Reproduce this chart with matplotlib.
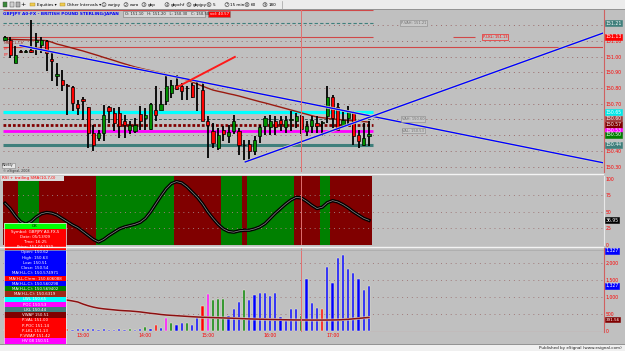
import matplotlib
matplotlib.use("Agg")
import matplotlib.pyplot as plt
import matplotlib.patheffects as pe
from matplotlib.patches import Rectangle, Circle

# ---------------- data (5-minute GBPJPY candles) ----------------
opens = [151.106, 151.106, 150.959, 151.036, 151.030, 151.042, 151.094, 151.074, 151.099, 150.985,
         150.876, 150.851, 150.822, 150.806, 150.698, 150.730, 150.679, 150.513, 150.482, 150.513,
         150.679, 150.641, 150.641, 150.590, 150.532, 150.526, 150.634, 150.609, 150.539, 150.660,
         150.660, 150.717, 150.768, 150.819, 150.813, 150.803, 150.819, 150.797, 150.787, 150.590,
         150.526, 150.418, 150.532, 150.494, 150.526, 150.526, 150.440, 150.443, 150.399, 150.494,
         150.558, 150.552, 150.590, 150.596, 150.552, 150.596, 150.590, 150.620, 150.526, 150.558,
         150.577, 150.577, 150.622, 150.743, 150.679, 150.564, 150.609, 150.641, 150.501, 150.437,
         150.494]
highs = [151.131, 151.125, 151.068, 151.040, 151.040, 151.233, 151.150, 151.125, 151.106, 151.036,
         150.959, 150.915, 150.825, 150.813, 150.724, 150.743, 150.679, 150.564, 150.532, 150.692,
         150.685, 150.673, 150.679, 150.628, 150.590, 150.609, 150.685, 150.673, 150.705, 150.813,
         150.781, 150.883, 150.851, 150.883, 150.832, 150.813, 150.832, 150.851, 150.832, 150.622,
         150.577, 150.545, 150.558, 150.564, 150.628, 150.545, 150.469, 150.469, 150.494, 150.564,
         150.622, 150.628, 150.622, 150.622, 150.622, 150.654, 150.641, 150.630, 150.590, 150.622,
         150.622, 150.590, 150.813, 150.756, 150.705, 150.654, 150.685, 150.654, 150.532, 150.577,
         150.590]
lows = [151.099, 150.991, 150.959, 151.026, 151.026, 151.023, 151.010, 151.023, 150.908, 150.845,
        150.813, 150.781, 150.628, 150.654, 150.628, 150.596, 150.418, 150.399, 150.462, 150.462,
        150.577, 150.526, 150.482, 150.482, 150.507, 150.513, 150.532, 150.532, 150.532, 150.590,
        150.660, 150.692, 150.736, 150.787, 150.724, 150.724, 150.736, 150.654, 150.590, 150.354,
        150.418, 150.405, 150.462, 150.450, 150.507, 150.373, 150.341, 150.335, 150.373, 150.450,
        150.501, 150.501, 150.501, 150.526, 150.513, 150.526, 150.545, 150.510, 150.494, 150.513,
        150.513, 150.494, 150.577, 150.545, 150.532, 150.545, 150.564, 150.437, 150.418, 150.431,
        150.431]
closes = [151.125, 151.010, 151.010, 151.030, 151.036, 151.029, 151.104, 151.106, 151.023, 150.972,
          150.889, 150.819, 150.816, 150.705, 150.673, 150.717, 150.513, 150.437, 150.513, 150.628,
          150.654, 150.577, 150.558, 150.564, 150.564, 150.564, 150.590, 150.628, 150.698, 150.628,
          150.698, 150.813, 150.819, 150.794, 150.781, 150.797, 150.743, 150.803, 150.590, 150.564,
          150.450, 150.501, 150.507, 150.520, 150.590, 150.437, 150.434, 150.399, 150.469, 150.552,
          150.609, 150.590, 150.552, 150.571, 150.596, 150.603, 150.622, 150.540, 150.558, 150.596,
          150.558, 150.583, 150.743, 150.609, 150.532, 150.596, 150.647, 150.494, 150.462, 150.482,
          150.507]
ma_price = [151.112, 151.110, 151.109, 151.108, 151.107, 151.106, 151.105, 151.104, 151.102, 151.092,
            151.080, 151.072, 151.063, 151.054, 151.045, 151.036, 151.026, 151.016, 151.006, 150.995,
            150.985, 150.975, 150.964, 150.954, 150.944, 150.934, 150.926, 150.918, 150.911, 150.903,
            150.896, 150.887, 150.878, 150.869, 150.860, 150.851, 150.838, 150.825, 150.812, 150.799,
            150.787, 150.779, 150.772, 150.764, 150.757, 150.749, 150.740, 150.731, 150.722, 150.713,
            150.705, 150.696, 150.687, 150.678, 150.669, 150.660, 150.651, 150.642, 150.633, 150.624,
            150.615, 150.611, 150.607, 150.603, 150.600, 150.596, 150.593, 150.591, 150.588, 150.586,
            150.583]
volumes = [60, 45, 40, 35, 30, 55, 40, 35, 50, 40,
           35, 30, 60, 45, 50, 55, 70, 60, 45, 71,
           32, 32, 52, 32, 52, 32, 71, 110, 71, 178,
           100, 392, 227, 178, 227, 227, 178, 373, 733, 1074,
           908, 947, 928, 441, 655, 840, 1200, 908, 1054, 1122,
           1122, 1035, 1122, 402, 305, 645, 636, 441, 1521, 811,
           684, 645, 1872, 1395, 2144, 2212, 1804, 1706, 1521, 1191,
           1327]
vol_codes = ["b"] * 12 + ["r"] + ["b"] * 11 + ["g", "b", "b", "g", "b", "r", "b", "m", "g", "b", "b", "g",
             "b", "b", "r", "m", "g", "g", "g", "b", "b", "b", "g", "b", "b", "b", "b", "b", "b", "b",
             "b", "b", "b", "g", "b", "b", "b", "r", "b", "b", "b", "b", "b", "b", "b", "b"]
vol_ma = [1250, 1210, 1170, 1130, 1095, 1060, 1030, 1000, 975, 955,
          935, 920, 905, 880, 850, 790, 740, 700, 670, 650,
          635, 620, 605, 595, 588, 575, 560, 540, 520, 505,
          485, 470, 460, 450, 440, 430, 420, 412, 405, 400,
          395, 390, 385, 380, 375, 368, 362, 356, 352, 348,
          344, 340, 337, 334, 331, 328, 326, 325, 324, 323,
          323, 323, 324, 325, 328, 335, 345, 358, 372, 386,
          400]
rsi = [63, 55, 44, 35, 31, 35, 42, 47, 49, 48,
       45, 40, 35, 30, 26, 20, 14, 8, 4, 8,
       14, 19, 24, 27, 29, 31, 34, 40, 50, 62,
       74, 85, 93, 96, 94, 88, 80, 72, 62, 50,
       40, 31, 24, 20, 19, 21, 22, 22, 24, 27,
       32, 40, 48, 55, 62, 68, 72, 71, 66, 60,
       55, 57, 64, 67, 65, 61, 56, 50, 45, 40,
       37]
rsi_state = [0, 0, 0, 1, 1, 1, 1, 0, 0, 0, 0, 0, 0, 0, 0, 0, 0, 0,
             1, 1, 1, 1, 1, 1, 1, 1, 1, 1, 1, 1, 1, 1, 1,
             0, 0, 0, 0, 0, 0, 0, 0, 0,
             1, 1, 1, 1, 0,
             1, 1, 1, 1, 1, 1, 1, 1, 1,
             0, 0, 0, 0, 0, 1, 1,
             0, 0, 0, 0, 0, 0, 0, 0]
hour_ticks = [15, 27, 39, 51, 63]
hour_labels = ["13:00", "14:00", "15:00", "16:00", "17:00"]
# price grid levels; labels hidden under the level boxes are left blank (as in the picture)
price_ticks = [150.3, 150.4, 150.5, 150.6, 150.7, 150.8, 150.9, 151.0, 151.1, 151.2]
price_tick_labels = ["150.30", "150.40", "", "", "150.70", "150.80", "150.90", "151.00", "151.10", ""]
rsi_ticks = [0, 25, 50, 75, 100]
vol_ticks = [0, 500, 1000, 1500, 2000]
vol_tick_labels = ["0", "500", "1,000", "1,500", "2,000"]

lvl_cyan, lvl_magenta, lvl_teal = 150.647, 150.528, 150.439
lvl_brown, lvl_gray = 150.567, 150.603
lvl_teal_top, lvl_red1, lvl_red2, lvl_red_top = 151.214, 151.125, 151.061, 151.297
desc_x, desc_y = [2.9, 115.0], [151.071, 150.324]
up_x, up_y = [46.2, 115.0], [150.329, 151.150]
red_x, red_y = [33.1, 44.2], [150.806, 150.998]
cursor_bar = 57
last_bar = 70.7

# ---------------- figure ----------------
W, H = 625, 351
BG = "#c0c0c0"
fig = plt.figure(figsize=(W / 100, H / 100), dpi=100)
fig.patch.set_facecolor(BG)
FS = 3.3


def px_axes(x0, y0, x1, y1):
    a = fig.add_axes([x0 / W, 1 - y1 / H, (x1 - x0) / W, (y1 - y0) / H])
    a.set_facecolor(BG)
    for s in a.spines.values():
        s.set_visible(False)
    return a


def rlabel(ax, y, txt, fc, tc="white", ec=None, fs=FS):
    ax.text(1.004, y, txt, transform=ax.get_yaxis_transform(), fontsize=fs, color=tc,
            va="center", ha="left", clip_on=False, zorder=12,
            bbox=dict(boxstyle="square,pad=0.12", fc=fc, ec=ec or fc, lw=0.4))


XMIN, XMAX = -0.38, 115.0
xs = list(range(len(opens)))
dot = (0, (1, 4))

# ---------- price panel ----------
axp = px_axes(3, 10, 603, 172)
axp.set_xlim(XMIN, XMAX)
axp.set_ylim(150.265, 151.297)
axp.hlines(price_ticks, XMIN, XMAX, color="#9a6a6a", lw=0.7, linestyles=dot, zorder=1)
axp.yaxis.tick_right()
axp.set_yticks(price_ticks, price_tick_labels)
axp.tick_params(axis="y", length=0, pad=2, labelsize=FS, labelcolor="#ff0000")
axp.set_xticks([])

axp.hlines([lvl_red_top, lvl_red1], XMIN, last_bar, color="#d04848", lw=0.8, zorder=2)
axp.hlines([lvl_red2], XMIN, XMAX, color="#d04848", lw=0.8, zorder=2)
axp.hlines([lvl_red1], 86.2, 90.4, color="#d04848", lw=0.8, zorder=2)
axp.hlines([lvl_teal_top], XMIN, last_bar, color="#3f7f7c", lw=0.8, linestyles=(0, (3, 2)), zorder=2)
axp.hlines([lvl_cyan], XMIN, last_bar, color="#00ffff", lw=2.3, zorder=2)
axp.hlines([lvl_magenta], XMIN, last_bar, color="#ff00ff", lw=2.0, zorder=2)
axp.hlines([lvl_teal], XMIN, last_bar, color="#3f7f7c", lw=2.2, zorder=2)
axp.hlines([lvl_gray], XMIN, last_bar, color="#3f5f5f", lw=0.7, linestyles=(0, (3, 2)), zorder=2)
axp.hlines([lvl_brown], XMIN, last_bar, color="#800000", lw=2.0, linestyles=(0, (1, 0.7)), zorder=2)
axp.plot(xs, ma_price, color="#9a1a10", lw=1.0, zorder=3)

axp.vlines(xs, lows, highs, color="black", lw=1.3, zorder=4)
body_bot = [min(o, c) for o, c in zip(opens, closes)]
body_h = [max(abs(c - o), 0.004) for o, c in zip(opens, closes)]
body_col = ["#009000" if c > o + 0.005 else ("#ff0000" if c < o - 0.005 else "black")
            for o, c in zip(opens, closes)]
axp.bar(xs, body_h, bottom=body_bot, width=0.62, color=body_col, edgecolor="black", lw=0.5, zorder=5)

halo = [pe.Stroke(linewidth=2.0, foreground="#d8d8b8"), pe.Normal()]
axp.plot(desc_x, desc_y, color="#0000ff", lw=1.0, zorder=6, path_effects=halo)
axp.plot(up_x, up_y, color="#0000ff", lw=1.0, zorder=6, path_effects=halo)
axp.plot(red_x, red_y, color="#ff1a1a", lw=1.4, zorder=6)
axp.axvline(cursor_bar, color="#e07070", lw=0.7, zorder=7)

gbox = dict(boxstyle="square,pad=0.2", fc="#c8c8c8", ec="#8a8a8a", lw=0.4)
axp.text(78.5, lvl_teal_top, "P-VAH: 151.21", fontsize=2.6, color="#707070", ha="center", va="center", bbox=gbox, zorder=8)
axp.text(78.5, lvl_gray, "VAH: 150.60", fontsize=2.6, color="#707070", ha="center", va="center", bbox=gbox, zorder=8)
axp.text(78.5, lvl_magenta, "VAL: 150.53", fontsize=2.6, color="#707070", ha="center", va="center", bbox=gbox, zorder=8)
axp.text(94.3, lvl_red1, "P-LKL: 151.13", fontsize=2.6, color="#ff0000", ha="center", va="center", zorder=8,
         bbox=dict(boxstyle="square,pad=0.2", fc=BG, ec="#ff0000", lw=0.4))

rlabel(axp, lvl_teal_top, "151.21", "#3f7f7c")
rlabel(axp, lvl_red1, "151.13", "#ff0000")
rlabel(axp, lvl_cyan, "150.65", "#00e8e8")
rlabel(axp, lvl_gray, "150.60", "#a03a3a")
rlabel(axp, lvl_brown, "150.57", "#800000")
rlabel(axp, lvl_magenta, "150.53", "#ff00ff")
rlabel(axp, 150.501, "150.50", "#008000")
rlabel(axp, lvl_teal, "150.44", "#3f7f7c")

# ---------- RSI panel ----------
axr = px_axes(3, 176, 603, 245)
axr.set_xlim(XMIN, XMAX)
axr.set_ylim(-0.5, 104.5)
axr.bar(xs, 120, bottom=-10, width=1.0, color=["#008000" if s else "#800000" for s in rsi_state], lw=0, zorder=1)
axr.hlines([25, 50, 75], XMIN, XMAX, color="#a07a7a", lw=0.7, linestyles=dot, zorder=2)
axr.plot(xs, rsi, color="black", lw=2.4, zorder=3)
axr.plot(xs, rsi, color="#8a8a8a", lw=0.5, zorder=4)
axr.axvline(cursor_bar, color="#e07070", lw=0.7, zorder=7)
axr.yaxis.tick_right()
axr.set_yticks(rsi_ticks, [str(v) for v in rsi_ticks])
axr.tick_params(axis="y", length=0, pad=2, labelsize=FS, labelcolor="#ff0000")
axr.set_xticks([])
rlabel(axr, 37, "36.95", "black")

# ---------- volume panel ----------
axv = px_axes(3, 248, 603, 332)
axv.set_xlim(XMIN, XMAX)
axv.set_ylim(-26, 2427)
axv.hlines([500, 1000, 1500, 2000], XMIN, XMAX, color="#a07a7a", lw=0.7, linestyles=dot, zorder=1)
cmap = {"b": "#0000ff", "g": "#008000", "r": "#ff0000", "m": "#ff00ff"}
axv.bar(xs, volumes, width=0.42, color=[cmap[c] for c in vol_codes], edgecolor="#e8e8d8", lw=0.35, zorder=3)
axv.plot(xs, vol_ma, color="#8b1010", lw=1.1, zorder=4,
         path_effects=[pe.Stroke(linewidth=1.9, foreground="#d8cccc"), pe.Normal()])
axv.axhline(-17, color="#e07070", lw=0.8, zorder=2)
axv.axvline(cursor_bar, color="#e07070", lw=0.7, zorder=7)
axv.yaxis.tick_right()
axv.set_yticks(vol_ticks, vol_tick_labels)
axv.tick_params(axis="y", length=0, pad=2, labelsize=FS, labelcolor="#ff0000")
axv.set_xticks(hour_ticks, hour_labels)
axv.tick_params(axis="x", length=0, pad=0.8, labelsize=FS, labelcolor="#ff0000")
rlabel(axv, 2348, "1,327", "#0000ff")
rlabel(axv, volumes[-1], "1,327", "#0000ff")
rlabel(axv, vol_ma[-1] - 70, "391.56", "#800000", fs=3.0)

# ---------- overlay (window furniture) ----------
ov = fig.add_axes([0, 0, 1, 1])
ov.set_xlim(0, W)
ov.set_ylim(H, 0)
ov.axis("off")
ov.patch.set_visible(False)
ov.set_zorder(20)

# toolbar
ov.add_patch(Rectangle((0, 0), W, 9, fc="#ececec", ec="none"))
ov.plot([0, W], [9.3, 9.3], color="#8c8c8c", lw=0.6)
ov.plot([282, 282], [0.5, 8.5], color="#a0a0a0", lw=0.5)
ov.add_patch(Rectangle((3, 2), 4, 4.5, fc="#3a8a3a", ec="#404040", lw=0.3))
ov.add_patch(Rectangle((9.5, 2), 4, 4.5, fc="#d0d0d0", ec="#404040", lw=0.3))
ov.add_patch(Rectangle((15.5, 2), 4, 4.5, fc="#b0b0b0", ec="#404040", lw=0.3))
ov.text(23, 4.6, "+", fontsize=4.5, va="center", ha="center", color="black")
for fx, lab in [(30, "Equities \u25be"), (60, "Other Intervals \u25be")]:
    ov.add_patch(Rectangle((fx, 2.5), 4.5, 3.8, fc="#f0cc50", ec="#a08020", lw=0.3))
    ov.text(fx + 7, 4.6, lab, fontsize=3.0, va="center", ha="left", color="black")
for bx, num, lab in [(104, "1", "eurjpy"), (126, "2", "euro"), (144, "3", "gbp"), (167, "4", "gbpchf"),
                     (189, "5", "gbpjpy"), (209, "6", "5"), (227, "7", "15 min"), (247, "8", "60"),
                     (265, "9", "180")]:
    ov.add_patch(Circle((bx, 4.6), 2.0, fc="white", ec="#303030", lw=0.4))
    ov.text(bx, 4.7, num, fontsize=2.3, va="center", ha="center", color="black")
    ov.text(bx + 3.5, 4.6, lab, fontsize=3.0, va="center", ha="left", color="black")

# title and OHLC boxes
ov.text(3, 13.6, "GBPJPY A0-FX - BRITISH POUND STERLING/JAPAN", color="#0000ff", fontsize=3.1,
        fontweight="bold", va="center", ha="left")
ov.add_patch(Rectangle((123, 11), 82, 5.5, fc="#d6d6d6", ec="#7a7a7a", lw=0.4))
ov.text(125, 13.8, "O: 151.10   H: 151.20   L: 150.30   C: 150.50", fontsize=2.7, va="center", color="#202020")
ov.add_patch(Rectangle((208, 11), 22, 5.5, fc="#ff0000", ec="#7a7a7a", lw=0.4))
ov.text(219, 13.8, "vol: 40.57", fontsize=2.7, va="center", ha="center", color="white")
ov.text(3.5, 42.5, "MA(H,L,Ch", fontsize=2.8, va="center", color="#a03030")
ov.text(3.5, 48.6, "PP", fontsize=2.8, va="center", color="#ff2020")
ov.text(3.5, 54.6, "PP", fontsize=2.8, va="center", color="#ff2020")

# weekly button / copyright
ov.add_patch(Rectangle((2, 163), 12.5, 4.6, fc="#e8e8e8", ec="#808080", lw=0.4))
ov.text(8.2, 165.4, "Weekly", fontsize=2.3, va="center", ha="center", color="#202020")
ov.text(3, 171.3, "\u00a9 eSignal, 2008", fontsize=2.3, va="center", color="#3a3a3a")

# panel separators and right border
ov.plot([0, 603], [174.3, 174.3], color="#f4f4f4", lw=1.0)
ov.plot([0, 603], [246.6, 246.6], color="#f4f4f4", lw=1.0)
ov.plot([0, 603], [249.6, 249.6], color="#a8a8a8", lw=0.5)
ov.plot([603.5, 603.5], [10, 172], color="#d06060", lw=0.8)
ov.plot([603.5, 603.5], [176, 245], color="#e8e8e8", lw=0.8)
ov.plot([603.5, 603.5], [248, 332], color="#d06060", lw=0.8)

# RSI title
ov.add_patch(Rectangle((1, 175.6), 63, 5, fc="#dcdcdc", ec="none"))
ov.text(2, 178.2, "RSI + trailing SMA(10,7,0)", fontsize=3.0, va="center", ha="left", color="#ff0000")

# cursor info box
info_rows = [("OK", "#00ff00", "black"),
             ("Symbol: GBPJPY A0-FX,5", "#ff0000", "white"),
             ("Date: 05/13/09", "#ff0000", "white"),
             ("Time: 16:25", "#ff0000", "white"),
             ("Price: 151.051920", "#ff0000", "white"),
             ("Open: 150.62", "#0000ff", "white"),
             ("High: 150.63", "#0000ff", "white"),
             ("Low: 150.51", "#0000ff", "white"),
             ("Close: 150.54", "#0000ff", "white"),
             ("MA(H,L,C): 150.574971", "#0000ff", "white"),
             ("MA(H,L,C)nm: 150.606088", "#ff0000", "white"),
             ("MA(H,L,C): 150.560298", "#0000ff", "white"),
             ("MA(H,L,C): 150.569402", "#008000", "white"),
             ("MA(H,L,C): 150.6319", "#a02818", "white"),
             ("LWL 150.65", "#00ffff", "white"),
             ("POC 150.53", "#ff00ff", "white"),
             ("LKL 150.44", "#3f7f7c", "white"),
             ("VWAP 150.51", "#800000", "white"),
             ("P-VAL 151.00", "#ff0000", "white"),
             ("P-POC 151.14", "#ff0000", "white"),
             ("P-LKL 151.13", "#ff0000", "white"),
             ("P-VWAP 151.42", "#ff0000", "white"),
             ("HV 08 150.51", "#ff00ff", "white")]
top, rh = 223.4, 5.23
for k, (txt, fc, tc) in enumerate(info_rows):
    ov.add_patch(Rectangle((4, top + k * rh), 62, rh, fc=fc, ec="none"))
    ov.text(35, top + (k + 0.55) * rh, txt, fontsize=2.9, va="center", ha="center", color=tc)
ov.add_patch(Rectangle((4, top), 62, rh * len(info_rows), fc="none", ec="#f0f0f0", lw=0.5))

# status bar
ov.add_patch(Rectangle((0, 344.5), W, 6.5, fc="#f0f0f0", ec="none"))
ov.plot([0, W], [344.3, 344.3], color="#8c8c8c", lw=0.6)
ov.text(622, 347.9, "Published by eSignal (www.esignal.com)", fontsize=3.0, va="center", ha="right", color="#202020")

fig.savefig("out.png", dpi=100, facecolor=fig.get_facecolor())
